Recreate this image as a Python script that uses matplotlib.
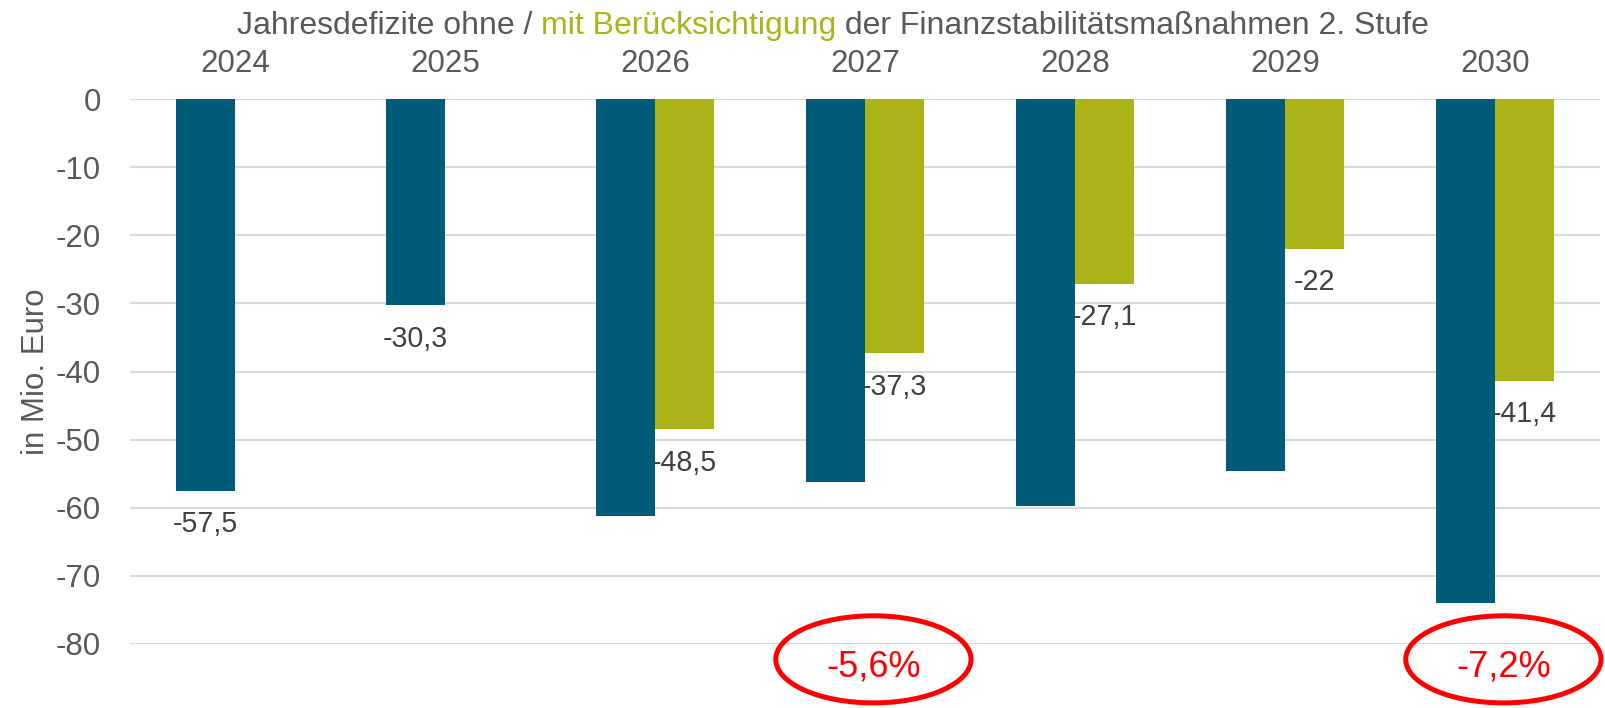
import matplotlib
matplotlib.use("Agg")
import matplotlib.pyplot as plt
import numpy as np
from matplotlib.patches import Ellipse

plt.rcParams["font.family"] = ["Liberation Sans", "DejaVu Sans"]

# data (Mio. Euro)
jahre = ["2024", "2025", "2026", "2027", "2028", "2029", "2030"]
ohne = [-57.5, -30.3, -61.3, -56.2, -59.8, -54.6, -74.0]
mit = [np.nan, np.nan, -48.5, -37.3, -27.1, -22.0, -41.4]
label_ohne = ["-57,5", "-30,3", None, None, None, None, None]
label_mit = [None, None, "-48,5", "-37,3", "-27,1", "-22", "-41,4"]
markierung_jahr = ["2027", "2030"]
markierung_text = ["-5,6%", "-7,2%"]

BLAU = "#005B78"
GRUEN = "#AAB418"
GRAU = "#595959"
DUNKEL = "#404040"

fig = plt.figure(figsize=(16.05, 7.08), dpi=100)
ax = fig.add_axes([130 / 1605, 1 - 643.7 / 708, 1470 / 1605, (643.7 - 99.3) / 708])

x = np.arange(len(jahre))
w = 0.283
b1 = ax.bar(x - w / 2, ohne, width=w, color=BLAU, zorder=3)
b2 = ax.bar(x + w / 2, mit, width=w, color=GRUEN, zorder=3)

for bars, labels in ((b1, label_ohne), (b2, label_mit)):
    for rect, lab in zip(bars, labels):
        if lab is None:
            continue
        ax.annotate(lab, (rect.get_x() + rect.get_width() / 2, rect.get_height()),
                    xytext=(0, -14), textcoords="offset points",
                    ha="center", va="top", fontsize=20.6, color=DUNKEL, zorder=4)

ax.set_xlim(-0.5, len(jahre) - 0.5)
ax.set_ylim(-80, 0)
ax.set_yticks(np.arange(0, -81, -10))
ax.set_yticklabels([str(v) for v in range(0, -81, -10)])
ax.set_xticks(x)
ax.set_xticklabels(jahre)
ax.xaxis.tick_top()
ax.tick_params(axis="x", length=0, pad=14.4, labelsize=22.5, labelcolor=GRAU)
ax.tick_params(axis="y", length=0, pad=21, labelsize=22.5, labelcolor=GRAU)
ax.grid(axis="y", color="#D9D9D9", linewidth=1.5, zorder=0)
for s in ax.spines.values():
    s.set_visible(False)

fig.text(36 / 1605, 1 - 372 / 708, "in Mio. Euro", rotation=90, ha="center",
         va="center", fontsize=22.5, color=GRAU)

# red markers below the chart
for jahr, txt in zip(markierung_jahr, markierung_text):
    i = jahre.index(jahr)
    ax.add_patch(Ellipse((i + 0.04, -82.3), 0.93, 12.8, fill=False,
                         edgecolor="#FF0000", linewidth=3.6, clip_on=False, zorder=5))
    ax.text(i + 0.04, -84.75, txt, ha="center", va="baseline", fontsize=26,
            color="#FF0000", clip_on=False)

# two-colour title
t1 = fig.text(237 / 1605, 1 - 34.3 / 708, "Jahresdefizite ohne / ", fontsize=23,
              color=GRAU, va="baseline", ha="left")
t2 = ax.annotate("mit Berücksichtigung", xy=(1, 0), xycoords=t1, fontsize=23,
                 color=GRUEN, va="bottom", ha="left")
ax.annotate(" der Finanzstabilitätsmaßnahmen 2. Stufe", xy=(1, 0), xycoords=t2,
            fontsize=23, color=GRAU, va="bottom", ha="left")

fig.savefig("out.png", dpi=100)
